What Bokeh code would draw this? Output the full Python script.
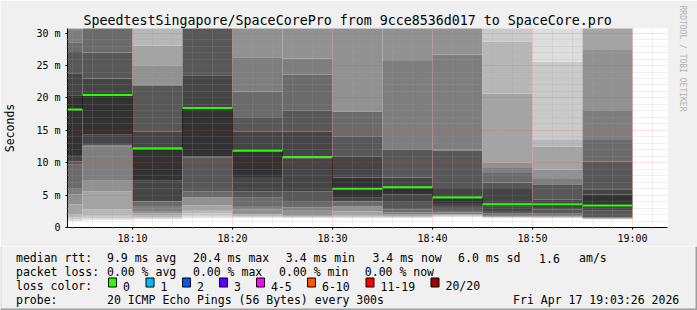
from datetime import datetime, timedelta
from bokeh.plotting import figure
from bokeh.layouts import column
from bokeh.models import (Range1d, FixedTicker, DatetimeTickFormatter, ColumnDataSource, Title)
from bokeh.core.properties import value
from bokeh.embed import file_html
from bokeh.resources import INLINE

# ---------------- data ----------------
bin_end = ["18:05", "18:10", "18:15", "18:20", "18:25", "18:30",
           "18:35", "18:40", "18:45", "18:50", "18:55", "19:00"]
median_rtt = [18.2, 20.45, 12.2, 18.45, 11.85, 10.9, 6.0, 6.2, 4.65, 3.57, 3.57, 3.4]

# 20 sorted ping rtts (ms) per 5-minute step
smoke_1805 = [1.0, 1.3, 1.6, 2.0, 3.6, 5.1, 6.1, 9.7, 10.2, 11.2, 20.4, 23.8, 27.1, 28.6, 30.5, 32, 33, 34, 36, 40]
smoke_1810 = [1.2, 1.4, 1.8, 2.8, 5.6, 7.2, 12.5, 12.7, 12.9, 14.3, 20.5, 23.0, 27.0, 31.5, 32.5, 33.5, 34.5, 36, 38, 42]
smoke_1815 = [1.28, 1.45, 1.6, 1.8, 2.2, 2.56, 3.3, 4.0, 4.1, 7.2, 12.3, 14.8, 21.9, 22.0, 22.1, 25.0, 28.1, 32, 34, 37]
smoke_1820 = [1.5, 1.8, 2.2, 2.6, 3.4, 4.6, 4.65, 5.6, 10.8, 11.0, 18.5, 23.5, 31.5, 32.5, 33.5, 34.5, 35.5, 36.5, 38, 40]
smoke_1825 = [1.5, 1.6, 1.7, 2.0, 2.1, 2.8, 3.3, 4.6, 5.6, 7.8, 11.9, 14.8, 16.9, 21.0, 26.3, 31.5, 33, 34, 36, 38]
smoke_1830 = [1.5, 1.55, 1.6, 1.7, 1.8, 2.6, 3.1, 4.1, 5.6, 10.7, 11.0, 14.8, 18.1, 23.6, 26.1, 31.5, 33, 34, 36, 38]
smoke_1835 = [1.5, 1.55, 1.65, 1.8, 2.5, 3.2, 3.3, 4.0, 4.1, 4.6, 7.7, 11.0, 14.1, 17.9, 17.95, 31.5, 33, 34, 36, 38]
smoke_1840 = [1.5, 1.55, 1.6, 1.7, 1.8, 2.0, 2.3, 2.8, 4.1, 5.1, 6.3, 7.7, 12.0, 12.1, 25.7, 31.5, 33, 34, 36, 38]
smoke_1845 = [1.6, 1.7, 1.8, 1.9, 2.0, 2.1, 2.3, 2.7, 3.3, 3.8, 4.8, 6.1, 11.9, 12.0, 26.7, 31.5, 33, 34, 36, 38]
smoke_1850 = [1.53, 1.55, 1.58, 1.6, 1.65, 1.7, 1.8, 2.2, 2.55, 3.2, 3.7, 6.1, 6.9, 8.4, 9.2, 10.0, 20.7, 28.7, 32, 35]
smoke_1855 = [1.45, 1.5, 1.55, 1.6, 1.65, 1.7, 1.8, 2.2, 2.8, 3.3, 3.8, 4.3, 6.6, 6.7, 7.5, 8.9, 12.5, 13.5, 25.6, 32]
smoke_1900 = [1.28, 1.31, 1.34, 1.37, 1.4, 1.45, 1.5, 1.6, 2.6, 3.3, 5.1, 5.9, 10.2, 13.5, 18.0, 27.4, 32, 34, 36, 38]
smoke = [smoke_1805, smoke_1810, smoke_1815, smoke_1820, smoke_1825, smoke_1830,
         smoke_1835, smoke_1840, smoke_1845, smoke_1850, smoke_1855, smoke_1900]

y_ticks = [0, 5, 10, 15, 20, 25, 30]
y_tick_labels = ["0", "5 m", "10 m", "15 m", "20 m", "25 m", "30 m"]
x_ticks = ["18:10", "18:20", "18:30", "18:40", "18:50", "19:00"]

rtt_stats = [("9.9", "ms avg"), ("20.4", "ms max"), ("3.4", "ms min"), ("3.4", "ms now"), ("6.0", "ms sd")]
rtt_am_s = "1.6"
loss_stats = [("0.00", "% avg"), ("0.00", "% max"), ("0.00", "% min"), ("0.00", "% now")]
loss_labels = ["0", "1", "2", "3", "4-5", "6-10", "11-19", "20/20"]
loss_colors = ["#26ff00", "#00b8ff", "#0059ff", "#5e00ff", "#ff00ff", "#ff5500", "#ff0000", "#a10000"]
probe_text = "20 ICMP Echo Pings (56 Bytes) every 300s"
stamp_text = "Fri Apr 17 19:03:26 2026"
title_text = "SpeedtestSingapore/SpaceCorePro from 9cce8536d017 to SpaceCore.pro"

# ---------------- helpers ----------------
DAY = datetime(2026, 4, 17)
EPOCH = datetime(1970, 1, 1)
MONO = "DejaVu Sans Mono"
BACK = "#f0f0f0"


def tm(s):
    h, m = map(int, s.split(":"))
    return DAY + timedelta(hours=h, minutes=m)


def ms(dt):
    return (dt - EPOCH).total_seconds() * 1000.0


def band_gray(k, n=20):
    half = n / 2
    ibot = min(k, n - k)
    c = int(190 / half * (half - ibot)) + 50
    return "#%02x%02x%02x" % (c, c, c)


T0 = DAY + timedelta(hours=18, minutes=3, seconds=30)
T1 = T0 + timedelta(hours=1)
YMAX = 30.72
W = 697
H_MAIN, H_LEG = 246, 64
FL, FR, FT, FB = 67, 667, 28, 228

ends = [tm(s) for s in bin_end]
starts = [e - timedelta(minutes=5) for e in ends]

# ---------------- main graph ----------------
p = figure(width=W, height=H_MAIN, x_axis_type="datetime",
           x_range=Range1d(T0, T1), y_range=Range1d(0, YMAX),
           output_backend="svg", toolbar_location=None,
           min_border_left=FL, min_border_right=W - FR,
           min_border_top=FT, min_border_bottom=H_MAIN - FB)
p.frame_align = False
p.border_fill_color = BACK
p.background_fill_color = "#ffffff"
p.outline_line_color = None

L, R, B, T, C = [], [], [], [], []
for s, e, pings in zip(starts, ends, smoke):
    for k in range(1, len(pings)):
        L.append(s); R.append(e)
        B.append(pings[k - 1]); T.append(pings[k])
        C.append(band_gray(k, len(pings)))
p.quad(left="l", right="r", bottom="b", top="t", fill_color="c", line_color=None,
       source=ColumnDataSource(dict(l=L, r=R, b=B, t=T, c=C)))

p.step(x=starts + [ends[-1]], y=median_rtt + [median_rtt[-1]], mode="after",
       line_color="#202020", line_width=1)
p.segment(x0=starts, y0=median_rtt, x1=ends, y1=median_rtt,
          line_color=loss_colors[0], line_width=2)

x_minor = []
t = tm("18:04")
while t <= tm("19:02"):
    if t.minute % 10 != 0:
        x_minor.append(ms(t))
    t += timedelta(minutes=2)
p.xaxis.ticker = FixedTicker(ticks=[ms(tm(s)) for s in x_ticks], minor_ticks=x_minor)
p.xaxis.formatter = DatetimeTickFormatter(minutes="%H:%M", hours="%H:%M", minsec="%H:%M",
                                          hourmin="%H:%M", seconds="%H:%M")
p.yaxis.ticker = FixedTicker(ticks=y_ticks, minor_ticks=[v for v in range(1, 31) if v % 5])
p.yaxis.major_label_overrides = {v: lab for v, lab in zip(y_ticks, y_tick_labels)}

for ax in (p.xaxis[0], p.yaxis[0]):
    ax.axis_line_color = "black"
    ax.major_tick_line_color = "black"
    ax.minor_tick_line_color = "#808080"
    ax.major_tick_in = 0
    ax.minor_tick_in = 0
    ax.major_label_text_font = MONO
    ax.major_label_text_font_size = "10px"
    ax.major_label_text_color = "black"
p.xaxis.major_tick_out = 2
p.xaxis.minor_tick_out = 1
p.xaxis.major_label_standoff = 3
p.yaxis.major_tick_out = 2
p.yaxis.minor_tick_out = 1
p.yaxis.major_label_standoff = 5
p.yaxis.axis_label = "Seconds"
p.yaxis.axis_label_text_font = MONO
p.yaxis.axis_label_text_font_size = "11.5px"
p.yaxis.axis_label_text_font_style = "normal"
p.yaxis.axis_label_text_color = "black"
p.yaxis.axis_label_standoff = 16

for g in (p.xgrid[0], p.ygrid[0]):
    g.level = "overlay"
    g.grid_line_color = "#ff4040"
    g.grid_line_alpha = 0.32
    g.grid_line_dash = "1 1"
    g.minor_grid_line_color = "#a0a0a0"
    g.minor_grid_line_alpha = 0.35
    g.minor_grid_line_dash = "1 1"

p.title.text = title_text
p.title.align = "left"
p.title.offset = 16
p.title.standoff = 1
p.title.text_font = MONO
p.title.text_font_size = "13.3px"
p.title.text_font_style = "normal"
p.title.text_color = "black"

p.add_layout(Title(text="RRDTOOL / TOBI OETIKER", align="left", vertical_align="top",
                   offset=-23, standoff=16,
                   text_font=MONO, text_font_size="8px", text_font_style="normal",
                   text_color="#b0b0b0"), "right")

# ---------------- legend strip ----------------
q = figure(width=W, height=H_LEG, x_range=Range1d(0, W), y_range=Range1d(H_LEG, 0),
           output_backend="svg", toolbar_location=None,
           x_axis_location=None, y_axis_location=None,
           min_border=0, min_border_left=0, min_border_right=0,
           min_border_top=0, min_border_bottom=0)
q.frame_align = False
q.border_fill_color = BACK
q.background_fill_color = BACK
q.outline_line_color = None
q.grid.visible = False

r1, r2, r3, r4 = 11.5, 25.5, 39.5, 53.5
x0 = 15.5
tx, ty, tt = [], [], []


def add(x, y, s):
    tx.append(x); ty.append(y); tt.append(s)


add(x0, r1, "median rtt:")
for xx, (v, u) in zip([106.5, 192.5, 285.3, 372.0, 457.6], rtt_stats):
    add(xx, r1, v + " " + u)
add(538.6, r1, rtt_am_s)
add(578.6, r1, "am/s")
add(x0, r2, "packet loss:")
for xx, (v, u) in zip([106.5, 192.5, 278.6, 364.3], loss_stats):
    add(xx, r2, v + " " + u)
add(x0, r3, "loss color:")
box_x = [108, 145.5, 182, 219, 256, 307, 365.5, 430.5]
for bx, lab in zip(box_x, loss_labels):
    add(bx + 14.5, r3, lab)
add(x0, r4, "probe:")
add(106.5, r4, probe_text)
add(512.6, r4, stamp_text)

q.text(x=tx, y=ty, text=tt, text_font=value(MONO), text_font_size=value("11.5px"),
       text_baseline="alphabetic", text_align="left", text_color="black")
q.quad(left=box_x, right=[b + 8 for b in box_x], top=[31.5] * len(box_x),
       bottom=[40.5] * len(box_x), fill_color=loss_colors, line_color="black", line_width=1)

# canvas shading at the edges of the legend strip
q.quad(left=[0, 0, W - 2], right=[1, W, W], top=[0, H_LEG - 2, 0], bottom=[H_LEG, H_LEG, H_LEG],
       fill_color=["#cfcfcf", "#9e9e9e", "#9e9e9e"], line_color=None)

layout = column(p, q, spacing=0)
open("out.html", "w").write(file_html(layout, INLINE))
